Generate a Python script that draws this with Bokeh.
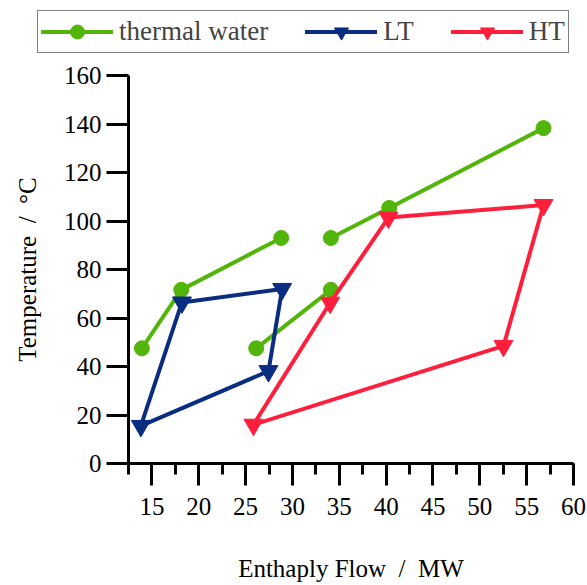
import numpy as np
from bokeh.plotting import figure
from bokeh.layouts import column
from bokeh.models import Range1d, SingleIntervalTicker, Legend, LegendItem, ColumnDataSource
from bokeh.embed import file_html
from bokeh.resources import INLINE

# data
water_x = [13.93, 18.13, 28.8, np.nan, 26.13, 34.1, np.nan, 34.1, 40.33, 56.8]
water_y = [47.5, 71.6, 93.0, np.nan, 47.5, 71.6, np.nan, 93.0, 105.4, 138.3]

lt_x = [13.82, 18.2, 28.9, 27.44, 13.82]
lt_y = [15.5, 66.4, 72.0, 38.1, 15.5]

ht_x = [25.84, 34.03, 40.25, 56.8, 52.53, 25.84]
ht_y = [16.0, 66.3, 101.4, 106.6, 48.5, 16.0]

x_ticks = [15, 20, 25, 30, 35, 40, 45, 50, 55, 60]
y_ticks = [0, 20, 40, 60, 80, 100, 120, 140, 160]

series_names = ["thermal water", "LT", "HT"]

GREEN = "#52B50A"
NAVY = "#0A2D82"
RED = "#FF1F3D"
FONT = "Liberation Serif"
NB = "\u00a0"

# ---------------- main plot ----------------
p = figure(width=587, height=525, output_backend="svg", toolbar_location=None,
           x_range=Range1d(12.5, 60), y_range=Range1d(0, 160),
           min_border_left=128, min_border_right=14, min_border_top=15,
           min_border_bottom=122)
p.outline_line_color = None
p.xgrid.visible = False
p.ygrid.visible = False
p.background_fill_color = "white"
p.border_fill_color = "white"
p.frame_align = False

wsrc = ColumnDataSource(dict(x=np.array(water_x), y=np.array(water_y)))
p.line("x", "y", source=wsrc, line_color=GREEN, line_width=4,
       line_join="round", line_cap="round")
p.scatter("x", "y", source=wsrc, marker="circle", size=15,
          fill_color=GREEN, line_color=GREEN)

p.line(lt_x, lt_y, line_color=NAVY, line_width=4, line_join="round", line_cap="round")
p.scatter(lt_x[:-1], lt_y[:-1], marker="inverted_triangle", size=19,
          fill_color=NAVY, line_color=NAVY)

p.line(ht_x, ht_y, line_color=RED, line_width=4, line_join="round", line_cap="round")
p.scatter(ht_x[:-1], ht_y[:-1], marker="inverted_triangle", size=19,
          fill_color=RED, line_color=RED)

for ax in (p.xaxis[0], p.yaxis[0]):
    ax.axis_line_width = 3
    ax.major_tick_line_width = 3
    ax.minor_tick_line_width = 3
    ax.major_tick_in = 0
    ax.minor_tick_in = 0
    ax.major_tick_out = 22
    ax.major_label_text_font = FONT
    ax.major_label_text_font_size = "25px"
    ax.major_label_text_color = "black"
    ax.axis_label_text_font = FONT
    ax.axis_label_text_font_size = "25px"
    ax.axis_label_text_font_style = "normal"
    ax.axis_label_text_color = "black"

p.xaxis.ticker = SingleIntervalTicker(interval=5, num_minor_ticks=2)
p.xaxis.minor_tick_out = 11
p.xaxis.major_label_standoff = 12
p.xaxis.axis_label = "Enthaply Flow" + NB + NB + "/" + NB + NB + "MW"
p.xaxis.axis_label_standoff = 37

p.yaxis.ticker = SingleIntervalTicker(interval=20, num_minor_ticks=0)
p.yaxis.minor_tick_out = 0
p.yaxis.major_label_standoff = 5
p.yaxis.axis_label = "Temperature" + NB + NB + "/" + NB + NB + "°C"
p.yaxis.axis_label_standoff = 20

# ---------------- legend strip ----------------
lg = figure(width=587, height=60, output_backend="svg", toolbar_location=None,
            x_range=Range1d(0, 1), y_range=Range1d(0, 1),
            x_axis_type=None, y_axis_type=None,
            min_border_left=0, min_border_right=0, min_border_top=0, min_border_bottom=0)
lg.outline_line_color = None
lg.xgrid.visible = False
lg.ygrid.visible = False
lg.border_fill_color = "white"
lg.frame_align = False

far = [-5, -4]
k1 = lg.line(far, far, line_color=GREEN, line_width=4, line_cap="round")
k2 = lg.scatter(far, far, marker="circle", size=14, fill_color=GREEN, line_color=GREEN)
k3 = lg.line(far, far, line_color=NAVY, line_width=4, line_cap="round")
k4 = lg.scatter(far, far, marker="inverted_triangle", size=15, fill_color=NAVY, line_color=NAVY)
k5 = lg.line(far, far, line_color=RED, line_width=4, line_cap="round")
k6 = lg.scatter(far, far, marker="inverted_triangle", size=15, fill_color=RED, line_color=RED)

legend = Legend(items=[
    LegendItem(label=series_names[0], renderers=[k1, k2]),
    LegendItem(label=series_names[1], renderers=[k3, k4]),
    LegendItem(label=series_names[2], renderers=[k5, k6]),
], orientation="horizontal", location=(37, 7), margin=0, padding=3,
    spacing=37, glyph_width=72, glyph_height=35, label_height=35,
    label_standoff=6, label_text_font=FONT, label_text_font_size="27px",
    border_line_color="black", border_line_width=1.5,
    background_fill_color="white", background_fill_alpha=1.0)
lg.add_layout(legend, "center")

layout = column(lg, p, spacing=0)
open("out.html", "w").write(file_html(layout, INLINE))
